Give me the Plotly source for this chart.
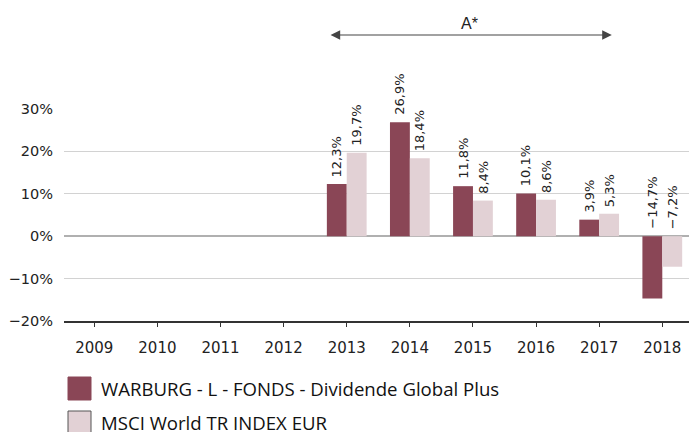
import plotly.graph_objects as go

years = ["2009", "2010", "2011", "2012", "2013", "2014", "2015", "2016", "2017", "2018"]
fund = [None, None, None, None, 12.3, 26.9, 11.8, 10.1, 3.9, -14.7]
index = [None, None, None, None, 19.7, 18.4, 8.4, 8.6, 5.3, -7.2]
fund_name = "WARBURG - L - FONDS - Dividende Global Plus"
index_name = "MSCI World TR INDEX EUR"
y_ticks = [-20, -10, 0, 10, 20, 30]
y_tick_labels = ["\u221220%", "\u221210%", "0%", "10%", "20%", "30%"]
extra_year = "2019"
arrow_label = "A*"

DARK = "#8a4656"
LIGHT = "#e2d1d5"

# the page body adds an 8px offset; the figure is sized to fill the rest of the window
W, H = 689, 424
ML, MT, MB = 56, 101, 111
PW, PH = W - ML, H - MT - MB  # 633 x 212


def fmt(v):
    return f"{v:.1f}".replace(".", ",").replace("-", "\u2212") + "%"


def px_x(px):  # window pixel -> paper x
    return (px - 8 - ML) / PW


def px_y(py):  # window pixel -> paper y
    return (H - MB - (py - 8)) / PH


fig = go.Figure()
fig.add_trace(go.Bar(x=years, y=fund, name=fund_name, marker=dict(color=DARK, line=dict(width=0))))
fig.add_trace(go.Bar(x=years, y=index, name=index_name, marker=dict(color=LIGHT, line=dict(width=0))))

annotations = []
bar_off = 0.155
for i, (a, b) in enumerate(zip(fund, index)):
    for v, off in ((a, -bar_off), (b, bar_off)):
        if v is None:
            continue
        annotations.append(dict(
            x=i + off, y=max(v, 0), xref="x", yref="y", text=fmt(v), textangle=-90,
            showarrow=False, xanchor="center", yanchor="bottom", yshift=5,
            font=dict(family="DejaVu Sans", size=13, color="#222")))

# arrow spanning the A* period
annotations.append(dict(
    x=8.2, y=px_y(35), xref="x", yref="paper", ax=3.72, ay=0, axref="x", ayref="pixel",
    showarrow=True, arrowhead=2, startarrowhead=2, arrowside="end+start",
    arrowsize=1.6, startarrowsize=1.6, arrowwidth=1.2, arrowcolor="#444", text=""))
annotations.append(dict(
    x=5.95, y=px_y(23), xref="x", yref="paper", text=arrow_label, showarrow=False,
    font=dict(family="Liberation Sans", size=16, color="#222"), yanchor="middle"))

# partially visible next year label
annotations.append(dict(
    x=px_x(692), y=px_y(346), xref="paper", yref="paper", text=extra_year, showarrow=False,
    xanchor="left", yanchor="middle", font=dict(family="DejaVu Sans", size=15, color="#222")))

# manual legend
shapes = []
leg_items = [(fund_name, DARK, None, 377), (index_name, LIGHT, "#555", 411)]
for name, col, border, top in leg_items:
    shapes.append(dict(type="rect", xref="paper", yref="paper",
                       x0=px_x(68), x1=px_x(91), y0=px_y(top + 23), y1=px_y(top),
                       fillcolor=col, line=dict(color=border or col, width=1)))
    annotations.append(dict(
        x=px_x(99), y=px_y(top + 11), xref="paper", yref="paper",
        text=name, showarrow=False, xanchor="left", yanchor="middle",
        font=dict(family="Open Sans", size=18.6, color="#111")))

fig.update_layout(
    width=W, height=H,
    margin=dict(l=ML, r=0, t=MT, b=MB),
    paper_bgcolor="white", plot_bgcolor="white",
    barmode="group", bargap=0.37, bargroupgap=0,
    showlegend=False,
    annotations=annotations, shapes=shapes,
    xaxis=dict(
        type="category", range=[-0.48, 9.55], showgrid=False, showline=True,
        linecolor="#333", linewidth=1.5, ticks="outside", ticklen=4, tickcolor="#333",
        tickfont=dict(family="DejaVu Sans", size=15, color="#222"), ticklabelstandoff=8,
    ),
    yaxis=dict(
        range=[-20, 30], tickvals=y_ticks, ticktext=y_tick_labels, showgrid=True,
        gridcolor="#d2d2d2", gridwidth=1, zeroline=True, zerolinecolor="#b0b0b0",
        zerolinewidth=1.5, showline=False, ticks="",
        tickfont=dict(family="DejaVu Sans", size=14.5, color="#222"), ticklabelstandoff=10,
    ),
)

fig.write_html("out.html")
